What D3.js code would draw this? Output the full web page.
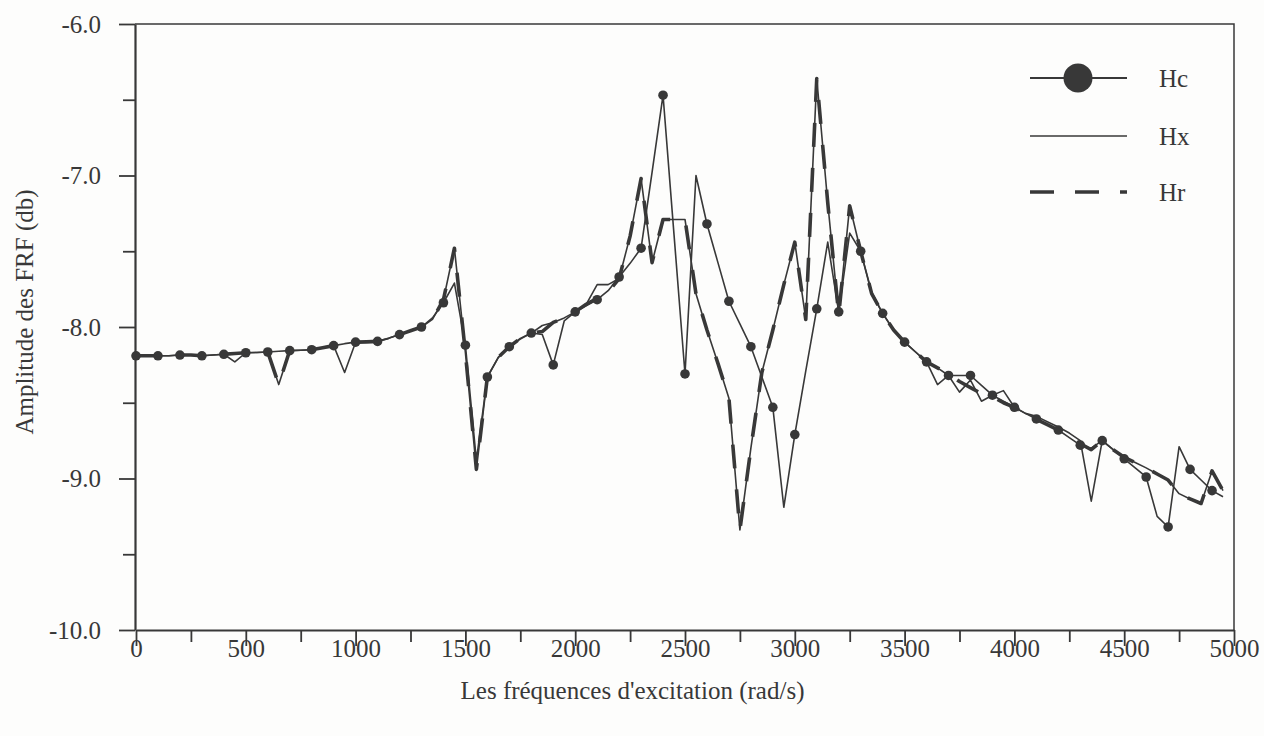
<!DOCTYPE html>
<html>
<head>
<meta charset="utf-8">
<script src="https://cdn.jsdelivr.net/npm/d3@7"></script>
<style>
  html, body { margin: 0; padding: 0; background: #fdfdfc; }
  svg { display: block; }
  text { font-family: "Liberation Serif", "Times New Roman", serif; fill: #383838; }
</style>
</head>
<body>
<svg id="chart" width="1264" height="736"></svg>
<script>
// Excitation frequencies (rad/s), one sample every 50 rad/s
const freq = [
  0, 50, 100, 150, 200, 250, 300, 350, 400, 450,
  500, 550, 600, 650, 700, 750, 800, 850, 900, 950,
  1000, 1050, 1100, 1150, 1200, 1250, 1300, 1350, 1400, 1450,
  1500, 1550, 1600, 1650, 1700, 1750, 1800, 1850, 1900, 1950,
  2000, 2050, 2100, 2150, 2200, 2250, 2300, 2350, 2400, 2450,
  2500, 2550, 2600, 2650, 2700, 2750, 2800, 2850, 2900, 2950,
  3000, 3050, 3100, 3150, 3200, 3250, 3300, 3350, 3400, 3450,
  3500, 3550, 3600, 3650, 3700, 3750, 3800, 3850, 3900, 3950,
  4000, 4050, 4100, 4150, 4200, 4250, 4300, 4350, 4400, 4450,
  4500, 4550, 4600, 4650, 4700, 4750, 4800, 4850, 4900, 4950
];

// FRF amplitudes (db)
const hc = [
  -8.19, -8.19, -8.19, -8.19, -8.185, -8.185, -8.19, -8.185, -8.18, -8.175,
  -8.17, -8.168, -8.165, -8.16, -8.156, -8.153, -8.15, -8.137, -8.123, -8.11,
  -8.10, -8.098, -8.095, -8.075, -8.05, -8.025, -8.0, -7.94, -7.84, -7.71,
  -8.12, -8.88, -8.33, -8.2, -8.13, -8.08, -8.04, -8.05, -8.25, -7.96,
  -7.90, -7.86, -7.82, -7.76, -7.67, -7.58, -7.48, -6.98, -6.47, -7.39,
  -8.31, -7.00, -7.32, -7.575, -7.83, -7.98, -8.13, -8.33, -8.53, -9.19,
  -8.71, -8.29, -7.88, -7.44, -7.90, -7.38, -7.50, -7.77, -7.91, -8.02,
  -8.10, -8.165, -8.23, -8.27, -8.32, -8.32, -8.32, -8.385, -8.45, -8.49,
  -8.53, -8.57, -8.607, -8.645, -8.68, -8.73, -8.78, -8.80, -8.75, -8.81,
  -8.87, -8.93, -8.99, -9.25, -9.32, -8.79, -8.94, -9.01, -9.08, -9.12
];

const hx = [
  -8.19, -8.19, -8.19, -8.19, -8.185, -8.185, -8.19, -8.185, -8.18, -8.23,
  -8.17, -8.168, -8.165, -8.38, -8.156, -8.153, -8.15, -8.137, -8.123, -8.30,
  -8.10, -8.098, -8.095, -8.075, -8.05, -8.025, -8.0, -7.95, -7.82, -7.48,
  -8.17, -8.94, -8.33, -8.2, -8.13, -8.075, -8.04, -7.99, -7.97, -7.94,
  -7.90, -7.85, -7.72, -7.72, -7.68, -7.40, -7.02, -7.575, -7.29, -7.29,
  -7.29, -7.78, -8.02, -8.24, -8.47, -9.34, -8.80, -8.30, -8.02, -7.72,
  -7.44, -7.95, -6.36, -7.18, -7.92, -7.20, -7.50, -7.78, -7.91, -8.02,
  -8.10, -8.165, -8.23, -8.38, -8.32, -8.43, -8.35, -8.49, -8.45, -8.42,
  -8.53, -8.57, -8.59, -8.625, -8.66, -8.70, -8.75, -9.15, -8.75, -8.81,
  -8.86, -8.895, -8.93, -8.97, -9.01, -9.10, -9.135, -9.165, -8.95, -9.08
];

const hr = [
  -8.19, -8.19, -8.19, -8.19, -8.185, -8.185, -8.19, -8.185, -8.18, -8.175,
  -8.17, -8.168, -8.165, -8.38, -8.156, -8.153, -8.15, -8.137, -8.123, -8.11,
  -8.10, -8.098, -8.095, -8.075, -8.05, -8.025, -8.0, -7.95, -7.82, -7.48,
  -8.17, -8.94, -8.33, -8.2, -8.13, -8.075, -8.04, -8.03, -7.97, -7.94,
  -7.90, -7.85, -7.81, -7.77, -7.68, -7.40, -7.02, -7.575, -7.29, -7.29,
  -7.29, -7.78, -8.02, -8.24, -8.47, -9.34, -8.80, -8.30, -8.02, -7.72,
  -7.44, -7.95, -6.36, -7.18, -7.92, -7.20, -7.50, -7.78, -7.91, -8.02,
  -8.10, -8.165, -8.23, -8.27, -8.31, -8.36, -8.40, -8.44, -8.46, -8.50,
  -8.53, -8.57, -8.61, -8.645, -8.68, -8.72, -8.77, -8.81, -8.75, -8.81,
  -8.86, -8.895, -8.93, -8.97, -9.01, -9.10, -9.135, -9.165, -8.95, -9.08
];

const seriesNames = ["Hc", "Hx", "Hr"];

// Axis ticks and labels
const xTicks = [0, 500, 1000, 1500, 2000, 2500, 3000, 3500, 4000, 4500, 5000];
const xMinorTicks = [250, 750, 1250, 1750, 2250, 2750, 3250, 3750, 4250, 4750];
const yTicks = [-10, -9, -8, -7, -6];
const yTickLabels = ["-10.0", "-9.0", "-8.0", "-7.0", "-6.0"];
const yMinorTicks = [-9.5, -8.5, -7.5, -6.5];
const xTitle = "Les fréquences d'excitation (rad/s)";
const yTitle = "Amplitude des FRF (db)";

const ink = "#383838";
const svg = d3.select("#chart");

const plot = { left: 135, right: 1234, top: 24, bottom: 630 };

const x = d3.scaleLinear().domain([0, 5000]).range([plot.left + 1, plot.right]);
const y = d3.scaleLinear().domain([-10, -6]).range([plot.bottom, plot.top]);

// Frame: top and right edges
svg.append("path")
  .attr("d", `M${plot.left},${plot.top}H${plot.right}V${plot.bottom}`)
  .attr("fill", "none").attr("stroke", ink).attr("stroke-width", 1.5);

// X axis: major ticks with labels, minor ticks without
const gx = svg.append("g").attr("transform", `translate(0,${plot.bottom})`);
gx.call(d3.axisBottom(x).tickValues(xTicks).tickSize(16).tickSizeOuter(0)
  .tickFormat(d3.format("d")));
const gxMinor = svg.append("g").attr("transform", `translate(0,${plot.bottom})`);
gxMinor.call(d3.axisBottom(x).tickValues(xMinorTicks).tickSize(12).tickSizeOuter(0)
  .tickFormat(""));
gxMinor.select(".domain").remove();

// Y axis
const gy = svg.append("g").attr("transform", `translate(${plot.left},0)`);
gy.call(d3.axisLeft(y).tickValues(yTicks).tickSize(16).tickSizeOuter(0)
  .tickFormat((d, i) => yTickLabels[i]));
const gyMinor = svg.append("g").attr("transform", `translate(${plot.left},0)`);
gyMinor.call(d3.axisLeft(y).tickValues(yMinorTicks).tickSize(12).tickSizeOuter(0)
  .tickFormat(""));
gyMinor.select(".domain").remove();

[gx, gxMinor, gy, gyMinor].forEach(g => {
  g.selectAll(".domain").attr("stroke", ink).attr("stroke-width", 2.2);
  g.selectAll(".tick line").attr("stroke", ink).attr("stroke-width", 1.8);
});
gx.selectAll(".tick text")
  .attr("y", 27).attr("dy", 0)
  .style("font-family", "'Liberation Serif', serif").style("font-size", "25px")
  .attr("fill", ink);
gy.selectAll(".tick text")
  .attr("x", -34).attr("dy", "0.32em")
  .style("font-family", "'Liberation Serif', serif").style("font-size", "25px")
  .attr("fill", ink);

// Axis titles
svg.append("text")
  .attr("x", (plot.left + plot.right) / 2 - 52).attr("y", 699)
  .attr("text-anchor", "middle").style("font-size", "25px")
  .text(xTitle);
svg.append("text")
  .attr("transform", `translate(33,${312}) rotate(-90)`)
  .attr("text-anchor", "middle").style("font-size", "25px")
  .text(yTitle);

// Curves
const rows = freq.map((f, i) => ({ f, hc: hc[i], hx: hx[i], hr: hr[i] }));
const lineOf = key => d3.line().x(d => x(d.f)).y(d => y(d[key]))(rows);

const dash = "24,21";

svg.append("path").attr("d", lineOf("hx"))
  .attr("fill", "none").attr("stroke", ink).attr("stroke-width", 1.6)
  .attr("stroke-linejoin", "round");
svg.append("path").attr("d", lineOf("hr"))
  .attr("fill", "none").attr("stroke", ink).attr("stroke-width", 3.6)
  .attr("stroke-dasharray", dash).attr("stroke-linejoin", "round");
svg.append("path").attr("d", lineOf("hc"))
  .attr("fill", "none").attr("stroke", ink).attr("stroke-width", 1.6)
  .attr("stroke-linejoin", "round");
svg.append("g").selectAll("circle")
  .data(rows.filter(d => d.f % 100 === 0))
  .join("circle")
  .attr("cx", d => x(d.f)).attr("cy", d => y(d.hc)).attr("r", 4.8)
  .attr("fill", ink);

// Legend
const legend = svg.append("g");
const legendRows = [
  { name: seriesNames[0], y: 78, width: 1.8, dash: null, marker: true },
  { name: seriesNames[1], y: 136, width: 1.6, dash: null, marker: false },
  { name: seriesNames[2], y: 192, width: 3.6, dash: dash, marker: false }
];
legendRows.forEach(r => {
  legend.append("line")
    .attr("x1", 1030).attr("x2", 1127).attr("y1", r.y).attr("y2", r.y)
    .attr("stroke", ink).attr("stroke-width", r.width)
    .attr("stroke-dasharray", r.dash);
  if (r.marker) {
    legend.append("circle").attr("cx", 1078).attr("cy", r.y).attr("r", 14.5).attr("fill", ink);
  }
  legend.append("text").attr("x", 1159).attr("y", r.y + 9)
    .style("font-size", "25px").text(r.name);
});
</script>
</body>
</html>
